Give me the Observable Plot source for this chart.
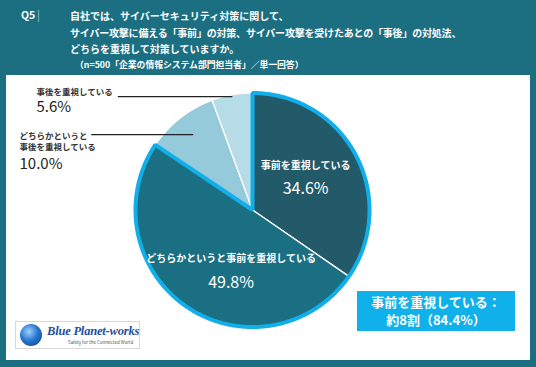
<!DOCTYPE html>
<html><head><meta charset="utf-8">
<script src="https://cdn.jsdelivr.net/npm/d3@7"></script>
<script src="https://cdn.jsdelivr.net/npm/@observablehq/plot@0.6"></script>
<style>
html,body{margin:0;padding:0;}
body{width:536px;height:367px;background:#1c6f81;position:relative;overflow:hidden;font-family:"Noto Sans CJK JP","Noto Sans",sans-serif;}
#panel{position:absolute;left:6px;top:75px;width:524px;height:285px;background:#fff;}
.t{position:absolute;color:#fff;font-weight:bold;white-space:nowrap;}
#chart{position:absolute;left:0;top:0;}
#callout{position:absolute;left:357px;top:291px;width:158px;height:40px;background:#10b0ea;color:#fff;font-weight:bold;font-size:13px;line-height:18px;text-align:center;padding-top:2px;box-sizing:border-box;}
#logo{position:absolute;left:15px;top:321px;width:123px;height:26px;border:1px solid #d8d8d8;background:#fff;}
#globe{position:absolute;left:4px;top:2px;width:22px;height:22px;border-radius:50%;background:radial-gradient(circle at 40% 35%,#9fd3ff 0%,#2a78d0 45%,#0c3a8a 100%);}
#lt{position:absolute;left:31px;top:2px;font-family:"Liberation Serif","DejaVu Serif",serif;font-style:italic;font-weight:bold;font-size:12.5px;color:#1d4fa3;white-space:nowrap;letter-spacing:-0.2px;}
#ls{position:absolute;left:52px;top:18px;font-size:4.5px;color:#555;white-space:nowrap;line-height:5px;}
</style></head>
<body>
<div id="panel"></div>
<div class="t" style="left:21px;top:7px;font-size:10.5px;">Q5</div>
<div class="t" style="left:37px;top:6px;font-size:11px;font-weight:normal;color:#9cc;">|</div>
<div class="t" style="left:70px;top:8px;font-size:10px;">自社では、サイバーセキュリティ対策に関して、</div>
<div class="t" style="left:70px;top:25px;font-size:10px;letter-spacing:-0.2px;">サイバー攻撃に備える「事前」の対策、サイバー攻撃を受けたあとの「事後」の対処法、</div>
<div class="t" style="left:70px;top:41px;font-size:10px;">どちらを重視して対策していますか。</div>
<div class="t" style="left:75px;top:58px;font-size:8.8px;">（n=500「企業の情報システム部門担当者」／単一回答）</div>
<div id="chart"></div>
<div id="callout">事前を重視している：<br>約8割（84.4%）</div>
<div id="logo"><div id="globe"></div><div id="lt">Blue Planet-works</div><div id="ls">Safety for the Connected World</div></div>
<script>
const categories = ["事前を重視している", "どちらかというと事前を重視している", "どちらかというと事後を重視している", "事後を重視している"];
const values = [34.6, 49.8, 10.0, 5.6];
const colors = ["#235a69", "#1a6f82", "#95cadb", "#b5dce7"];
const displayNames = ["事前を重視している", "どちらかというと事前を重視している", "どちらかというと\n事後を重視している", "事後を重視している"];

const cx = 252, cy = 209.5, R = 117;
const arcs = d3.pie().sort(null).value(d => d)(values);
const pt = (a, r) => ({x: Math.sin(a) * r, y: Math.cos(a) * r});
function arcPoly(a0, a1, key) {
  const pts = [{...pt(0, 0), key}];
  const n = Math.max(2, Math.ceil((a1 - a0) / (Math.PI / 360)));
  for (let i = 0; i <= n; i++) pts.push({...pt(a0 + (a1 - a0) * i / n, 1), key});
  return pts;
}
const slices = arcs.flatMap((a, i) => arcPoly(a.startAngle, a.endAngle, categories[i]));
const group = arcPoly(arcs[0].startAngle, arcs[1].endAngle, "g");
const mid = i => (arcs[i].startAngle + arcs[i].endAngle) / 2;
const inside = arcs.map((a, i) => ({...pt(mid(i), 0.6), name: displayNames[i], pct: values[i].toFixed(1) + "%", i}));
const elbowR = [0, 0, 0.82, 0.985];
const leaderStart = [0, 0, -1.378, -1.151];
const outside = arcs.map((a, i) => ({...pt(mid(i), elbowR[i]), x0: leaderStart[i], name: displayNames[i], pct: values[i].toFixed(1) + "%", i}));

const ins = (i, dx, dy) => [
  Plot.text(inside.filter(d => d.i === i), {x: "x", y: "y", text: "name", fill: "white", fontSize: 10, fontWeight: "bold", dx, dy: dy - 12}),
  Plot.text(inside.filter(d => d.i === i), {x: "x", y: "y", text: "pct", fill: "white", fontSize: 16, dx, dy: dy + 12})
];
const out = (i, dxName, dyName, dyPct) => [
  Plot.link(outside.filter(d => d.i === i), {x1: "x0", y1: "y", x2: "x", y2: "y", stroke: "#222", strokeWidth: 1.2}),
  Plot.text(outside.filter(d => d.i === i), {frameAnchor: "left", y: "y", text: "name", textAnchor: "start", fill: "#333", fontSize: 8.5, fontWeight: "bold", lineHeight: 1.35, dx: dxName, dy: dyName}),
  Plot.text(outside.filter(d => d.i === i), {frameAnchor: "left", y: "y", text: "pct", textAnchor: "start", fill: "#222", fontSize: 15, dx: dxName, dy: dyPct})
];

const chart = Plot.plot({
  width: 536, height: 367, margin: 0,
  style: {background: "transparent", fontFamily: "'Noto Sans CJK JP', 'Noto Sans', sans-serif"},
  x: {domain: [-1, 1], range: [cx - R, cx + R], axis: null},
  y: {domain: [-1, 1], range: [cy + R, cy - R], axis: null},
  color: {domain: categories, range: colors},
  marks: [
    Plot.line(slices, {x: "x", y: "y", z: "key", fill: "key", stroke: "white", strokeWidth: 1.3, curve: "linear-closed"}),
    Plot.line(group, {x: "x", y: "y", stroke: "#12aeea", strokeWidth: 4, fill: "none", curve: "linear-closed", strokeLinejoin: "miter"}),
    ...ins(0, -9, 0),
    ...ins(1, 18, 3),
    ...out(2, 19, 6.5, 30),
    ...out(3, 36, -5, 11)
  ]
});
document.getElementById("chart").appendChild(chart);
</script>
</body></html>
